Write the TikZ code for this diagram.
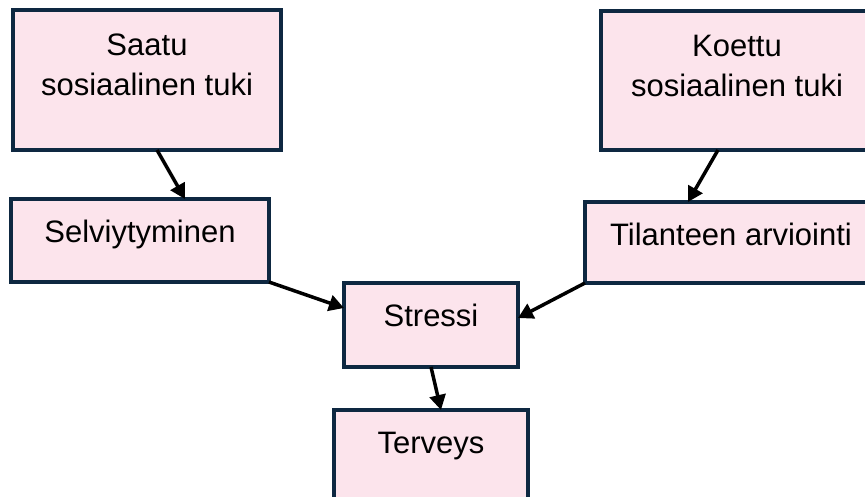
\documentclass[tikz,border=0pt]{standalone}
\usepackage{fontspec}
\setmainfont{Liberation Sans}
\usetikzlibrary{arrows.meta}
\definecolor{boxfill}{RGB}{252,228,236}
\definecolor{boxline}{RGB}{14,40,65}

\begin{document}
\begin{tikzpicture}[
        x=1pt, y=-1pt,
        box/.style={draw=boxline, fill=boxfill, line width=3.5pt, rectangle,
            anchor=north west, inner sep=0pt, outer sep=0pt},
        txt/.style={anchor=base, align=center, inner sep=0pt,
            font=\fontsize{31}{40}\selectfont, label distance=-43pt},
        txttwo/.style={txt, label distance=-85pt},
        link/.style={-{Triangle[length=15pt,width=16pt]}, line width=3.5pt, black},
    ]
        \useasboundingbox (0,0) rectangle (865,496);
        \clip (0,0) rectangle (865,496);

        % boxes
        \node[box, minimum width=268pt, minimum height=140pt,
            label={[txttwo]north:Saatu\\sosiaalinen tuki}] (saatu) at (13,10) {};
        \node[box, minimum width=272pt, minimum height=139pt,
            label={[txttwo]north:Koettu\\sosiaalinen tuki}] (koettu) at (601,11) {};
        \node[box, minimum width=258pt, minimum height=83pt,
            label={[txt]north:Selviytyminen}] (selviytyminen) at (11,199) {};
        \node[box, minimum width=292pt, minimum height=81pt,
            label={[txt]north:Tilanteen arviointi}] (arviointi) at (585,202) {};
        \node[box, minimum width=174pt, minimum height=84pt,
            label={[txt]north:Stressi}] (stressi) at (344,283) {};
        \node[box, minimum width=194pt, minimum height=95pt,
            label={[txt]north:Terveys}] (terveys) at (334,410) {};

        % arrows
        \draw[link] ([xshift=10pt]saatu.south) -- ([xshift=45pt]selviytyminen.north);
        \draw[link] ([xshift=-19pt]koettu.south) -- ([xshift=-43pt]arviointi.north);
        \draw[link] (selviytyminen.south east) -- ([yshift=17pt]stressi.west);
        \draw[link] (arviointi.south west) -- ([yshift=7pt]stressi.east);
        \draw[link] (stressi.south) -- ([xshift=10pt]terveys.north);
    \end{tikzpicture}
\end{document}
